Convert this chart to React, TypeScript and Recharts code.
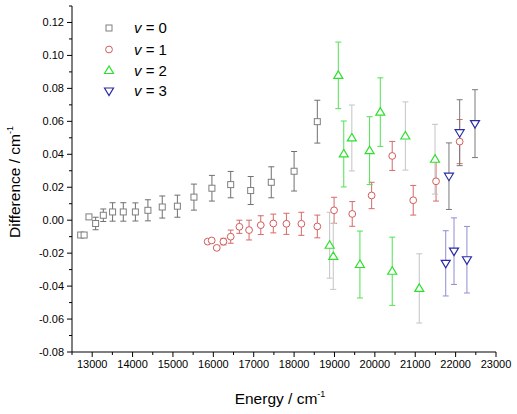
import React from 'react';
import { ScatterChart, Scatter, XAxis, YAxis, ErrorBar } from 'recharts';

// v = 0
const energy0 = [12715, 12800, 12920, 13085, 13275, 13505, 13770, 14070, 14380, 14735, 15110, 15520, 15965, 16430, 16925, 17435, 18000, 18575];
const diff0 = [-0.009, -0.009, 0.002, -0.002, 0.003, 0.005, 0.005, 0.005, 0.006, 0.008, 0.0085, 0.014, 0.0194, 0.0216, 0.018, 0.023, 0.0297, 0.0598];
const err0 = [0.001, 0.001, 0.001, 0.0038, 0.0038, 0.0056, 0.0056, 0.0055, 0.0064, 0.0067, 0.0067, 0.0079, 0.0078, 0.008, 0.0085, 0.0094, 0.012, 0.013];

// v = 1
const energy1 = [15860, 15960, 16085, 16250, 16430, 16645, 16885, 17175, 17485, 17810, 18180, 18575, 18990, 19440, 19920, 20430, 20950, 21515, 22100];
const diff1 = [-0.013, -0.0123, -0.0168, -0.013, -0.01, -0.004, -0.006, -0.003, -0.002, -0.0022, -0.0022, -0.0038, 0.006, 0.0038, 0.015, 0.039, 0.0121, 0.0236, 0.0477];
const err1 = [0.001, 0.001, 0.001, 0.002, 0.004, 0.004, 0.006, 0.0057, 0.0057, 0.0064, 0.007, 0.0069, 0.0079, 0.0075, 0.008, 0.0088, 0.009, 0.012, 0.0134];

// v = 2 (grey2: error bar drawn in light grey)
const energy2 = [18880, 18970, 19095, 19230, 19430, 19630, 19870, 20135, 20430, 20755, 21100, 21490];
const diff2 = [-0.0152, -0.022, 0.0879, 0.0402, 0.0499, -0.0269, 0.0422, 0.0656, -0.031, 0.0511, -0.0414, 0.037];
const err2 = [0.02, 0.02, 0.0202, 0.02, 0.02, 0.0203, 0.0206, 0.0208, 0.0207, 0.0207, 0.021, 0.0212];
const grey2 = [1, 1, 0, 0, 1, 0, 0, 0, 0, 1, 1, 1];

// v = 3
const energy3 = [21755, 21835, 21960, 22100, 22280, 22480];
const diff3 = [-0.0262, 0.0267, -0.0188, 0.0531, -0.024, 0.0586];
const err3 = [0.0198, 0.0202, 0.0202, 0.02, 0.0202, 0.0206];
const grey3 = [0, 1, 0, 1, 0, 1];

const xTicks = [12500, 13000, 13500, 14000, 14500, 15000, 15500, 16000, 16500, 17000, 17500, 18000, 18500, 19000, 19500, 20000, 20500, 21000, 21500, 22000, 22500, 23000];
const yTicks = [-0.08, -0.07, -0.06, -0.05, -0.04, -0.03, -0.02, -0.01, 0, 0.01, 0.02, 0.03, 0.04, 0.05, 0.06, 0.07, 0.08, 0.09, 0.1, 0.11, 0.12, 0.13];

const legendLabels = ['0', '1', '2', '3'];

const C0 = '#7f7f7f';
const C1 = '#d25c5c';
const C2 = '#2ee02e';
const C3 = '#2b2ba6';

const build = (e: number[], d: number[], er: number[], mask?: number[], want?: number) =>
  e.map((x, i) => ({ x, y: d[i], err: er[i], m: mask ? mask[i] : 0 }))
    .filter((p) => want === undefined || p.m === want);

const Square = ({ cx, cy, stroke }: any) => (
  <rect x={cx - 3} y={cy - 3} width={6} height={6} fill="#fff" stroke={stroke} strokeWidth={1} />
);
const Circ = ({ cx, cy, stroke }: any) => (
  <circle cx={cx} cy={cy} r={3.4} fill="#fff" stroke={stroke} strokeWidth={1} />
);
const TriUp = ({ cx, cy, stroke }: any) => (
  <polygon points={`${cx},${cy - 4.5} ${cx - 4.5},${cy + 3} ${cx + 4.5},${cy + 3}`} fill="#fff" stroke={stroke} strokeWidth={1.2} />
);
const TriDown = ({ cx, cy, stroke }: any) => (
  <polygon points={`${cx - 4.5},${cy - 3} ${cx + 4.5},${cy - 3} ${cx},${cy + 4.5}`} fill="#fff" stroke={stroke} strokeWidth={1.2} />
);

const YTick = ({ x, y, payload }: any) => {
  const v = payload.value;
  const major = Math.round(v * 100) % 2 === 0;
  return (
    <g>
      <line x1={x} x2={x - (major ? 5 : 3)} y1={y} y2={y} stroke="#000" />
      {major && (
        <text x={x - 8} y={y} dy="0.35em" textAnchor="end" fontSize={11} fill="#000">
          {v.toFixed(2)}
        </text>
      )}
    </g>
  );
};

const XTick = ({ x, y, payload }: any) => {
  const v = payload.value;
  const major = v % 1000 === 0;
  return (
    <g>
      <line x1={x} x2={x} y1={y} y2={y + (major ? 5 : 3)} stroke="#000" />
      {major && (
        <text x={x} y={y + 8} dy="0.71em" textAnchor="middle" fontSize={11} fill="#000">
          {v}
        </text>
      )}
    </g>
  );
};

const legendShapes = [
  (c: number) => <rect x={4} y={c - 3} width={6} height={6} fill="#fff" stroke={C0} />,
  (c: number) => <circle cx={7} cy={c} r={3.4} fill="#fff" stroke={C1} />,
  (c: number) => <polygon points={`7,${c - 4.5} 2.5,${c + 3} 11.5,${c + 3}`} fill="#fff" stroke={C2} strokeWidth={1.2} />,
  (c: number) => <polygon points={`2.5,${c - 3} 11.5,${c - 3} 7,${c + 4.5}`} fill="#fff" stroke={C3} strokeWidth={1.2} />,
];
const legendRows = [28, 49.5, 70.5, 91];

export default function App() {
  return (
    <div style={{ position: 'absolute', left: 0, top: 0, width: 517, height: 414, background: '#fff', fontFamily: '"Liberation Sans", Arial, sans-serif' }}>
      <ScatterChart width={517} height={414} margin={{ top: 6, right: 21, bottom: 0, left: 0 }}>
        <XAxis type="number" dataKey="x" domain={[12500, 23000]} ticks={xTicks} interval={0}
          tick={<XTick />} tickLine={false} tickSize={0} tickMargin={0} height={62}
          axisLine={{ stroke: '#000' }} allowDataOverflow />
        <YAxis type="number" dataKey="y" domain={[-0.08, 0.13]} ticks={yTicks} interval={0}
          tick={<YTick />} tickLine={false} tickSize={0} tickMargin={0} width={72}
          axisLine={{ stroke: '#000' }} allowDataOverflow />

        <Scatter data={build(energy0, diff0, err0)} shape={<Square stroke={C0} />} isAnimationActive={false}>
          <ErrorBar dataKey="err" direction="y" width={3} stroke="#707070" strokeWidth={1} />
        </Scatter>
        <Scatter data={build(energy1, diff1, err1)} shape={<Circ stroke={C1} />} isAnimationActive={false}>
          <ErrorBar dataKey="err" direction="y" width={3} stroke="#d66a6a" strokeWidth={1} />
        </Scatter>
        <Scatter data={build(energy2, diff2, err2, grey2, 1)} shape={<TriUp stroke={C2} />} isAnimationActive={false}>
          <ErrorBar dataKey="err" direction="y" width={3} stroke="#c4c4c4" strokeWidth={1} />
        </Scatter>
        <Scatter data={build(energy2, diff2, err2, grey2, 0)} shape={<TriUp stroke={C2} />} isAnimationActive={false}>
          <ErrorBar dataKey="err" direction="y" width={3} stroke="#52e052" strokeWidth={1} />
        </Scatter>
        <Scatter data={build(energy3, diff3, err3, grey3, 1)} shape={<TriDown stroke={C3} />} isAnimationActive={false}>
          <ErrorBar dataKey="err" direction="y" width={3} stroke="#7a7a7a" strokeWidth={1} />
        </Scatter>
        <Scatter data={build(energy3, diff3, err3, grey3, 0)} shape={<TriDown stroke={C3} />} isAnimationActive={false}>
          <ErrorBar dataKey="err" direction="y" width={3} stroke="#8e8ed2" strokeWidth={1} />
        </Scatter>
      </ScatterChart>

      {/* legend */}
      <svg style={{ position: 'absolute', left: 102, top: 0 }} width={16} height={110}>
        {legendShapes.map((s, i) => <g key={i}>{s(legendRows[i])}</g>)}
      </svg>
      {legendLabels.map((l, i) => (
        <div key={l} style={{ position: 'absolute', left: 134, top: legendRows[i] - 9, fontSize: 15, lineHeight: '18px', whiteSpace: 'nowrap' }}>
          <i>v</i> = {l}
        </div>
      ))}

      {/* axis titles */}
      <div style={{ position: 'absolute', left: 280, top: 390, transform: 'translateX(-50%)', fontSize: 15.5, lineHeight: '18px', whiteSpace: 'nowrap' }}>
        Energy / cm<span style={{ fontSize: 9, position: 'relative', top: -7 }}>-1</span>
      </div>
      <div style={{ position: 'absolute', left: 16, top: 182, transform: 'translate(-50%, -50%) rotate(-90deg)', fontSize: 15.5, lineHeight: '18px', whiteSpace: 'nowrap' }}>
        Difference / cm<span style={{ fontSize: 9, position: 'relative', top: -7 }}>-1</span>
      </div>
    </div>
  );
}
